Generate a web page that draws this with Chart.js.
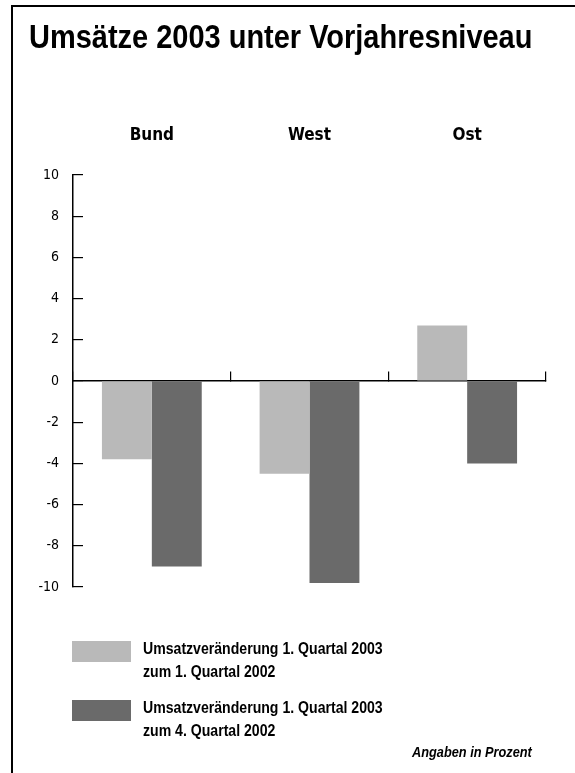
<!DOCTYPE html>
<html>
<head>
<meta charset="utf-8">
<script src="https://cdn.jsdelivr.net/npm/chart.js@4/dist/chart.umd.min.js"></script>
<style>
  html, body { margin: 0; padding: 0; background: #fff; }
  body { width: 575px; height: 773px; position: relative; overflow: hidden;
         font-family: 'Liberation Sans', Arial, sans-serif; color: #000; }
  #frame { position: absolute; left: 11px; top: 5px; width: 600px; height: 800px;
           border-left: 2.5px solid #000; border-top: 2.5px solid #000; }
  #title { position: absolute; left: 29px; top: 18px; font-size: 33px; font-weight: bold; white-space: nowrap; display: inline-block; }
  #wrap { position: absolute; left: 0; top: 0; width: 575px; height: 773px; }
  .leg { position: absolute; left: 72px; font-size: 16.5px; font-weight: bold; line-height: 23px; }
  .leg span.sw { position: absolute; left: 0; top: 0; width: 59px; height: 21px; }
  .leg div.tx { position: absolute; left: 71px; top: -4px; white-space: nowrap; display: inline-block; }
  #note { position: absolute; left: 412px; top: 743px; font-size: 15px; font-weight: bold; font-style: italic; white-space: nowrap; display: inline-block; }
</style>
</head>
<body>
<div id="wrap"><canvas id="chart"></canvas></div>
<div id="frame"></div>
<div id="title">Umsätze 2003 unter Vorjahresniveau</div>
<div class="leg" style="top:641px"><span class="sw" id="sw1"></span><div class="tx" id="lg1"></div></div>
<div class="leg" style="top:700px"><span class="sw" id="sw2"></span><div class="tx" id="lg2"></div></div>
<div id="note">Angaben in Prozent</div>
<script>
// Kategorien und Werte (Prozent)
const regionen = ['Bund', 'West', 'Ost'];
const vorjahresQuartal = [-3.8, -4.5, 2.7];   // 1. Quartal 2003 zum 1. Quartal 2002
const vorQuartal = [-9.0, -9.8, -4.0];        // 1. Quartal 2003 zum 4. Quartal 2002
const serienNamen = [
  ['Umsatzveränderung 1. Quartal 2003', 'zum 1. Quartal 2002'],
  ['Umsatzveränderung 1. Quartal 2003', 'zum 4. Quartal 2002']
];
const farben = ['#b9b9b9', '#6a6a6a'];

// Legende als HTML
document.getElementById('sw1').style.background = farben[0];
document.getElementById('sw2').style.background = farben[1];
document.getElementById('lg1').innerHTML = serienNamen[0].join('<br>');
document.getElementById('lg2').innerHTML = serienNamen[1].join('<br>');

// schmale Schrift nachbilden: Text horizontal auf Zielbreite stauchen
function stauchen(id, breite) {
  const el = document.getElementById(id);
  el.style.transformOrigin = 'left top';
  el.style.transform = 'scaleX(' + (breite / el.scrollWidth) + ')';
}
stauchen('title', 503);
stauchen('lg1', 240);
stauchen('lg2', 240);
stauchen('note', 120);

const schrift = "'DejaVu Sans Condensed', 'Liberation Sans', sans-serif";

new Chart(document.getElementById('chart'), {
  type: 'bar',
  data: {
    labels: regionen,
    datasets: [
      { label: serienNamen[0].join(' '), data: vorjahresQuartal, backgroundColor: farben[0] },
      { label: serienNamen[1].join(' '), data: vorQuartal, backgroundColor: farben[1] }
    ]
  },
  options: {
    responsive: true,
    maintainAspectRatio: false,
    animation: false,
    datasets: { bar: { categoryPercentage: 0.633, barPercentage: 1.0 } },
    layout: { padding: { left: 0, right: 29, top: 0, bottom: 186 } },
    plugins: { legend: { display: false }, tooltip: { enabled: false } },
    scales: {
      x: {
        position: { y: 0 },
        grid: { display: true, drawOnChartArea: false, offset: true, tickLength: -10, color: '#000', lineWidth: 1.2 },
        border: { display: true, color: '#000', width: 1.5 },
        ticks: { display: false }
      },
      x2: {
        type: 'category',
        position: 'top',
        grid: { display: false },
        border: { display: false },
        ticks: { color: '#000', padding: 21, font: { family: schrift, size: 17, weight: 'bold' } },
        afterFit: s => { s.height = 175; }
      },
      y: {
        min: -10,
        max: 10,
        ticks: { stepSize: 2, color: '#000', padding: 24, font: { family: schrift, size: 14 } },
        grid: { drawOnChartArea: false, tickLength: -10, color: '#000', lineWidth: 1.2 },
        border: { display: true, color: '#000', width: 1.5 },
        afterFit: s => { s.width = 73; }
      }
    }
  }
});
</script>
</body>
</html>
